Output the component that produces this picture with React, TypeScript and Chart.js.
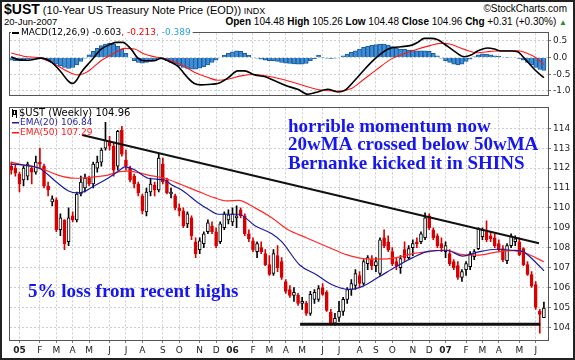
import React, { useEffect, useRef } from 'react';
import { Chart, registerables } from 'chart.js';
Chart.register(...registerables);

// Weekly candles, index 0 = week of 20-Dec-2004, last = week of 18-Jun-2007
const OPEN = [112.1,112.0,111.7,111.4,111.6,112.0,111.8,112.3,112.1,111.1,110.3,110.4,108.9,109.4,108.3,109.6,109.4,110.7,111.0,111.5,111.2,112.0,112.3,113.0,113.35,113.1,112.1,113.9,112.4,112.0,111.6,111.2,110.6,109.8,110.8,111.15,110.9,112.2,111.4,110.7,110.6,110.0,109.85,109.2,109.5,108.3,107.9,108.2,108.8,109.1,108.8,108.3,109.0,109.4,109.3,109.5,109.9,109.6,108.7,108.35,107.8,108.0,107.7,107.15,106.7,107.6,107.3,106.3,105.9,105.6,105.6,105.2,105.2,104.7,105.4,105.4,106.0,105.75,104.75,104.2,104.5,104.8,105.4,105.9,106.1,106.6,106.2,107.2,107.4,107.1,106.7,108.5,108.3,107.8,107.3,107.0,107.9,107.5,108.0,108.3,108.3,108.5,109.6,108.9,108.6,108.2,107.8,107.7,107.3,107.1,106.5,106.9,107.05,107.55,107.95,108.55,108.8,108.6,108.5,108.2,107.95,107.35,108.1,108.3,108.3,107.95,107.15,106.65,106.15,104.8,104.48];
const HIGH = [112.3,112.2,111.8,112.1,112.3,112.1,112.6,113.0,112.2,111.3,110.6,110.5,109.7,109.4,110.0,109.8,110.8,111.6,111.7,111.6,112.3,112.6,113.0,114.3,113.6,113.3,113.9,114.1,112.9,112.1,111.7,111.3,110.7,111.0,111.5,111.3,112.7,112.5,111.5,111.0,110.7,110.2,110.0,109.8,109.6,108.5,108.5,108.8,109.4,109.3,109.0,109.3,109.8,109.9,110.0,110.1,110.0,109.7,108.9,108.5,108.3,108.3,107.9,107.6,107.9,108.1,107.5,106.4,106.1,106.0,105.7,105.5,105.3,105.8,105.9,106.1,106.2,105.85,104.9,104.7,105.3,105.5,106.0,106.4,106.9,106.8,107.4,107.6,107.6,107.5,108.5,108.9,108.6,108.0,107.5,107.6,108.3,108.1,108.4,108.5,108.8,109.75,109.7,109.0,108.7,108.5,108.3,107.9,107.4,107.3,106.9,107.3,107.8,107.9,109.0,109.0,109.35,108.8,108.7,108.4,108.1,108.2,108.7,108.6,108.5,108.0,107.3,106.8,106.3,104.9,105.26];
const LOW = [111.7,111.6,110.8,111.1,111.4,111.2,111.7,112.0,111.0,110.6,110.1,108.8,108.6,107.9,108.1,109.3,109.3,110.6,110.8,111.1,111.0,111.8,112.1,112.9,112.9,111.6,111.9,112.6,111.9,111.3,111.0,110.6,109.7,109.6,110.6,110.6,110.8,111.2,110.7,110.5,109.9,109.6,109.0,109.0,108.4,107.5,107.7,108.0,108.7,108.7,108.0,108.2,108.9,109.2,109.1,109.0,109.5,108.6,108.3,107.8,107.5,107.7,107.1,106.6,106.6,106.8,106.4,105.7,105.5,105.3,105.1,104.9,104.6,104.6,105.2,105.3,105.6,104.8,104.1,104.1,104.3,104.6,105.2,105.6,105.9,106.0,106.1,106.9,106.9,106.8,106.6,108.0,107.8,107.1,106.9,106.7,107.3,107.4,107.6,108.0,108.2,108.4,108.9,108.4,108.0,107.8,107.5,107.1,106.9,106.4,106.3,106.6,106.9,107.4,107.9,108.4,108.3,108.3,108.0,107.8,107.3,107.2,108.0,108.1,107.6,107.1,106.6,106.0,104.9,103.7,104.48];
const CLOSE = [111.9,111.75,111.2,112.0,112.2,111.8,112.3,112.2,111.1,110.9,110.45,108.9,109.5,108.2,109.5,109.4,110.7,111.3,111.5,111.2,112.2,112.3,112.9,113.4,113.1,111.9,113.85,112.7,112.1,111.4,111.2,110.75,109.85,110.8,111.2,110.9,112.5,111.3,110.75,110.8,110.0,109.85,109.1,109.7,108.6,107.7,108.35,108.7,109.25,108.8,108.1,109.2,109.7,109.65,109.7,109.6,109.6,108.7,108.45,107.9,108.2,107.8,107.15,106.65,107.7,107.0,106.5,105.8,105.6,105.75,105.2,105.3,104.7,105.65,105.75,105.95,105.65,104.85,104.15,104.45,104.8,105.4,105.9,106.2,106.7,106.2,107.3,107.5,107.1,107.3,108.4,108.1,107.9,107.2,107.1,107.45,107.5,107.95,108.2,108.2,108.7,109.5,109.0,108.5,108.1,108.0,108.1,107.2,107.0,106.5,106.8,107.2,107.7,107.8,108.95,108.9,108.4,108.45,108.1,107.9,107.4,108.1,108.6,108.45,107.65,107.15,106.65,106.07,105.0,104.65,104.96];

// Moving averages: [week index, value]
const EMA20_PTS: [number, number][] = [[0,112.2],[3,112.15],[7,111.98],[11,111.3],[14,110.85],[16,110.75],[18,110.83],[20,111.08],[23.6,111.49],[26.5,111.9],[27.7,112.06],[30.2,111.9],[33.4,111.49],[37.5,111.4],[39.1,111.16],[41.6,110.9],[45.6,110.26],[48.1,109.93],[50.5,109.68],[55.5,109.68],[59.5,109.1],[63.6,108.7],[66,108.3],[70.4,107.13],[74.5,106.64],[77.7,106.2],[80,106.0],[82.4,105.9],[85.9,106.07],[89.9,106.55],[94,107.05],[98,107.5],[102,107.83],[106.2,107.87],[110.2,107.58],[114.3,107.8],[118.4,107.92],[122.4,107.87],[124.9,107.8],[128.2,107.22],[130,106.84]];
const EMA50_PTS: [number, number][] = [[0,112.3],[3.2,112.15],[7.3,111.98],[11.4,111.65],[15.5,111.49],[19.5,111.54],[23.6,111.65],[26.5,111.82],[28.5,111.85],[33.4,111.65],[37.5,111.49],[41.6,111.16],[45.6,110.83],[49.7,110.5],[52.6,110.35],[55.5,110.38],[59.5,110.0],[63.6,109.5],[67.6,108.9],[72,108.5],[77.7,108.0],[81.8,107.65],[85.9,107.45],[89.9,107.42],[94,107.5],[98,107.7],[102,107.8],[106.2,107.87],[110.2,107.65],[114.3,107.63],[118.4,107.78],[122.4,107.85],[125.7,107.71],[130,107.29]];

// MACD(12,26,9)
const MACD_PTS: [number, number][] = [[0,0.02],[1.6,-0.06],[4.1,-0.085],[7.3,-0.02],[9.8,-0.14],[12.2,-0.44],[13.8,-0.69],[15,-0.78],[15.9,-0.69],[17.1,-0.44],[19.5,-0.1],[21.9,0.24],[24.4,0.4],[25.6,0.45],[27.2,0.45],[29.3,0.24],[30.9,-0.02],[32.5,-0.1],[35,-0.1],[36.6,-0.02],[38.2,-0.1],[40.7,-0.27],[43.1,-0.61],[44.7,-0.78],[46.3,-0.82],[48.8,-0.8],[50.4,-0.78],[52.9,-0.61],[55.3,-0.4],[56.9,-0.4],[59.4,-0.52],[61.8,-0.57],[64.2,-0.69],[67.5,-0.86],[69.9,-0.95],[72.4,-1.1],[74.8,-1.03],[77.2,-0.95],[79.7,-1.03],[81.3,-0.99],[83.8,-0.69],[86.2,-0.36],[88.6,-0.06],[91.1,0.19],[92.7,0.28],[95.1,0.32],[97.6,0.36],[99.2,0.45],[100.8,0.57],[102.4,0.57],[104.1,0.53],[105.7,0.4],[108.1,0.19],[110.6,0.02],[112.2,0.07],[113.8,0.19],[116.3,0.28],[117.9,0.25],[119.5,0.19],[122,0.19],[123.6,0.17],[125.2,-0.02],[127.7,-0.36],[130,-0.603]];
const SIGNAL_PTS: [number, number][] = [[0,0.13],[3.3,0.03],[7.3,-0.02],[10.6,-0.2],[13.8,-0.42],[16.3,-0.52],[18.7,-0.42],[21.9,-0.1],[25.2,0.13],[27.6,0.27],[30.1,0.25],[32.5,0.1],[35,0.02],[38.2,-0.07],[41.5,-0.22],[44.7,-0.44],[48,-0.6],[50.4,-0.68],[52.9,-0.65],[56.1,-0.55],[59.4,-0.51],[62.6,-0.56],[65,-0.62],[69,-0.75],[73,-0.9],[76,-0.98],[80,-1.0],[83,-0.93],[86,-0.66],[89,-0.38],[92.7,-0.05],[95.8,0.11],[99,0.24],[102.4,0.36],[104.9,0.42],[107,0.4],[110.6,0.24],[113.8,0.14],[117,0.18],[120,0.2],[123.6,0.2],[126,0.12],[128,0.0],[130,-0.213]];
const HIST = [-0.08,-0.1,-0.1,-0.08,-0.05,-0.03,-0.02,-0.01,-0.05,-0.1,-0.15,-0.2,-0.25,-0.3,-0.33,-0.3,-0.22,-0.12,-0.02,0.08,0.18,0.27,0.35,0.4,0.42,0.4,0.33,0.25,0.12,0.0,-0.1,-0.15,-0.17,-0.15,-0.12,-0.08,-0.03,-0.05,-0.1,-0.15,-0.2,-0.25,-0.3,-0.33,-0.35,-0.35,-0.32,-0.28,-0.22,-0.15,-0.08,0.0,0.06,0.12,0.17,0.2,0.18,0.12,0.06,0.0,-0.02,-0.05,-0.08,-0.1,-0.1,-0.12,-0.15,-0.17,-0.18,-0.19,-0.2,-0.2,-0.18,-0.1,-0.04,0.06,0.01,-0.02,-0.03,-0.02,0.0,0.05,0.1,0.15,0.2,0.25,0.3,0.33,0.36,0.38,0.4,0.4,0.37,0.32,0.28,0.25,0.24,0.22,0.22,0.2,0.2,0.2,0.18,0.12,0.05,-0.02,-0.1,-0.15,-0.2,-0.22,-0.2,-0.12,-0.05,0.02,0.08,0.11,0.1,0.08,0.05,0.03,0.0,-0.01,0.0,0.0,-0.03,-0.08,-0.15,-0.22,-0.3,-0.36,-0.389];

// Hand-drawn lines
const TREND_LINE: [number, number][] = [[17.3,113.66],[128.8,108.22]];
const SUPPORT_LINE: [number, number][] = [[70.5,104.15],[129.1,104.15]];

// Axes
const MONTH_TICKS = [2,7,11,15,19,24,28,32,37,41,46,50,54,59,63,67,71,76,80,85,89,93,98,102,106,111,115,119,124,128];
const MONTH_LABELS = ['05','F','M','A','M','J','J','A','S','O','N','D','06','F','M','A','M','J','J','A','S','O','N','D','07','F','M','A','M','J'];
const PRICE_TICKS = [104,105,106,107,108,109,110,111,112,113,114];
const MACD_TICKS = [0.5,0,-0.5,-1.0];

const RED = '#d80000';
const GRID = '#cdcdcd';
const AXFONT = '"DejaVu Sans", Verdana, sans-serif';

const framePlugin = {
  id: 'frame',
  afterDraw(chart: any) {
    const { ctx, chartArea: a } = chart;
    ctx.save();
    ctx.strokeStyle = '#555';
    ctx.lineWidth = 1;
    ctx.strokeRect(Math.round(a.left) - 0.5, Math.round(a.top) - 0.5, Math.round(a.right - a.left) + 1, Math.round(a.bottom - a.top) + 1);
    ctx.restore();
  },
};

const xScale = (showLabels: boolean) => ({
  type: 'linear',
  min: -0.3,
  max: 131,
  offset: false,
  afterBuildTicks: (ax: any) => { ax.ticks = MONTH_TICKS.map((v) => ({ value: v })); },
  afterFit: (s: any) => { s.height = showLabels ? 20 : 0; },
  ticks: {
    display: showLabels,
    autoSkip: false,
    maxRotation: 0,
    padding: 2,
    color: '#222',
    callback: (_v: any, i: number) => MONTH_LABELS[i],
    font: (c: any) => ({ size: 9, family: AXFONT, weight: /\d/.test(MONTH_LABELS[c.index] || '') ? 'bold' : 'normal' }),
  },
  grid: { color: GRID, drawTicks: showLabels, tickLength: 3, tickColor: '#777', offset: false },
  border: { display: false, dash: [2, 2] },
});

export default function App() {
  const macdRef = useRef<HTMLCanvasElement>(null);
  const priceRef = useRef<HTMLCanvasElement>(null);

  useEffect(() => {
    const toXY = (pts: [number, number][]) => pts.map(([x, y]) => ({ x, y }));
    const idx = CLOSE.map((_, i) => i);
    const up = idx.map((i) => CLOSE[i] >= OPEN[i]);

    const macdLegend = {
      id: 'macdLegend',
      afterDraw(chart: any) {
        const ctx = chart.ctx;
        ctx.save();
        ctx.font = '9px ' + AXFONT;
        ctx.textBaseline = 'middle';
        const parts: [string, string][] = [['MACD(12,26,9) -0.603', '#000'], [', -0.213', '#ff0000'], [', -0.389', '#2aa3dc']];
        let x = 21;
        const y = 7;
        let w = 0;
        parts.forEach(([t]) => { w += ctx.measureText(t).width; });
        ctx.fillStyle = '#fff';
        ctx.fillRect(11, 2, w + 12, 10);
        ctx.strokeStyle = '#000';
        ctx.lineWidth = 2;
        ctx.beginPath(); ctx.moveTo(12, y); ctx.lineTo(19, y); ctx.stroke();
        parts.forEach(([t, c]) => { ctx.fillStyle = c; ctx.fillText(t, x, y); x += ctx.measureText(t).width; });
        ctx.restore();
      },
    };

    const macdChart = new Chart(macdRef.current as HTMLCanvasElement, {
      type: 'bar',
      data: {
        datasets: [
          { type: 'line', data: toXY(MACD_PTS), borderColor: '#000', borderWidth: 1.6, pointRadius: 0, cubicInterpolationMode: 'monotone', order: 0 } as any,
          { type: 'line', data: toXY(SIGNAL_PTS), borderColor: '#ff1a1a', borderWidth: 1.1, pointRadius: 0, cubicInterpolationMode: 'monotone', order: 1 } as any,
          { type: 'bar', data: HIST.map((v, i) => ({ x: i, y: v })), backgroundColor: '#3d8fd6', borderColor: '#1d5a9e', borderWidth: 1, barPercentage: 1, categoryPercentage: 1, order: 2 } as any,
        ],
      },
      options: {
        animation: false,
        responsive: false,
        devicePixelRatio: 1,
        layout: { padding: { left: 10, top: 2, right: 0, bottom: 2 } },
        plugins: { legend: { display: false }, tooltip: { enabled: false } },
        scales: {
          x: xScale(false) as any,
          y: {
            position: 'right',
            min: -1.139,
            max: 0.717,
            afterBuildTicks: (ax: any) => { ax.ticks = MACD_TICKS.map((v) => ({ value: v })); },
            afterFit: (s: any) => { s.width = 27; },
            ticks: { callback: (v: any) => Number(v).toFixed(1), font: { size: 9, family: AXFONT }, color: '#222', padding: 2 },
            grid: { color: GRID, tickLength: 3, tickColor: '#777' },
            border: { display: false, dash: [2, 2] },
          } as any,
        },
      },
      plugins: [framePlugin, macdLegend],
    });

    const bodies = idx.map((i) => {
      let lo = Math.min(OPEN[i], CLOSE[i]);
      let hi = Math.max(OPEN[i], CLOSE[i]);
      if (hi - lo < 0.06) { const m = (hi + lo) / 2; lo = m - 0.04; hi = m + 0.04; }
      return { x: i, y: [lo, hi] };
    });
    const wicks = idx.map((i) => ({ x: i, y: [LOW[i], HIGH[i]] }));

    const priceOverlay = {
      id: 'priceOverlay',
      afterDraw(chart: any) {
        const ctx = chart.ctx;
        ctx.save();
        ctx.textBaseline = 'middle';
        // small candle icon
        ctx.fillStyle = '#000';
        ctx.fillRect(12, 8, 1, 8);
        ctx.strokeStyle = '#000'; ctx.lineWidth = 1;
        ctx.strokeRect(13.5, 9.5, 2, 4);
        ctx.fillRect(16, 9, 1, 8);
        ctx.font = '10px ' + AXFONT;
        ctx.fillStyle = '#000';
        ctx.fillText('$UST (Weekly) 104.96', 19, 12);
        ctx.font = '9px ' + AXFONT;
        ctx.fillStyle = '#1c1c9c';
        ctx.fillRect(12, 21, 7, 1.5);
        ctx.fillText('EMA(20) 106.84', 20, 22);
        ctx.fillStyle = '#ff1a1a';
        ctx.fillRect(12, 31, 7, 1.5);
        ctx.fillText('EMA(50) 107.29', 20, 32);
        // annotations
        ctx.font = 'bold 19px "Liberation Serif", "Times New Roman", serif';
        ctx.fillStyle = '#1616ee';
        ctx.textBaseline = 'alphabetic';
        ctx.fillText('horrible momentum now', 288, 31);
        ctx.fillText('20wMA crossed below 50wMA', 288, 49);
        ctx.fillText('Bernanke kicked it in SHINS', 288, 68);
        ctx.fillText('5% loss from recent highs', 28, 196);
        ctx.restore();
      },
    };

    const priceChart = new Chart(priceRef.current as HTMLCanvasElement, {
      type: 'bar',
      data: {
        datasets: [
          { type: 'line', data: toXY(TREND_LINE), borderColor: '#111', borderWidth: 2, pointRadius: 0, order: 0 } as any,
          { type: 'line', data: toXY(SUPPORT_LINE), borderColor: '#111', borderWidth: 3, pointRadius: 0, order: 1 } as any,
          { type: 'line', data: toXY(EMA20_PTS), borderColor: '#1c1c9c', borderWidth: 1.2, pointRadius: 0, cubicInterpolationMode: 'monotone', order: 2 } as any,
          { type: 'line', data: toXY(EMA50_PTS), borderColor: '#ff2a2a', borderWidth: 1.2, pointRadius: 0, cubicInterpolationMode: 'monotone', order: 3 } as any,
          { type: 'bar', data: bodies, backgroundColor: up.map((u) => (u ? '#fff' : RED)), borderColor: up.map((u) => (u ? '#000' : RED)), borderWidth: 1, borderSkipped: false, barThickness: 3, grouped: false, order: 4 } as any,
          { type: 'bar', data: wicks, backgroundColor: up.map((u) => (u ? '#000' : RED)), borderWidth: 0, barThickness: 1, grouped: false, order: 5 } as any,
        ],
      },
      options: {
        animation: false,
        responsive: false,
        devicePixelRatio: 1,
        layout: { padding: { left: 10, top: 2, right: 0, bottom: 0 } },
        plugins: { legend: { display: false }, tooltip: { enabled: false } },
        scales: {
          x: xScale(true) as any,
          y: {
            position: 'right',
            min: 103.36,
            max: 115.0,
            afterBuildTicks: (ax: any) => { ax.ticks = PRICE_TICKS.map((v) => ({ value: v })); },
            afterFit: (s: any) => { s.width = 27; },
            ticks: { callback: (v: any) => String(v), font: { size: 9, family: AXFONT }, color: '#222', padding: 2 },
            grid: { color: GRID, tickLength: 3, tickColor: '#777' },
            border: { display: false, dash: [2, 2] },
          } as any,
        },
      },
      plugins: [framePlugin, priceOverlay],
    });

    return () => { macdChart.destroy(); priceChart.destroy(); };
  }, []);

  const sans = '"Liberation Sans", Arial, sans-serif';
  return (
    <div style={{ position: 'absolute', left: 0, top: 0, width: 575, height: 360, background: '#fff', overflow: 'hidden', fontFamily: sans, color: '#000' }}>
      <div style={{ position: 'absolute', left: 4, top: 1, whiteSpace: 'nowrap', lineHeight: '16px' }}>
        <span style={{ fontWeight: 'bold', fontSize: 14 }}>$UST</span>
        <span style={{ fontSize: 11 }}> (10-Year US Treasury Note Price (EOD))</span>
        <span style={{ fontSize: 9 }}> INDX</span>
      </div>
      <div style={{ position: 'absolute', right: 8, top: 3, fontSize: 10, whiteSpace: 'nowrap', lineHeight: '12px' }}>©StockCharts.com</div>
      <div style={{ position: 'absolute', left: 4, top: 16, fontSize: 9.5, whiteSpace: 'nowrap', lineHeight: '11px' }}>20-Jun-2007</div>
      <div style={{ position: 'absolute', right: 8, top: 16, fontSize: 10, whiteSpace: 'nowrap', lineHeight: '11px' }}>
        <b>Open</b> 104.48 <b>High</b> 105.26 <b>Low</b> 104.48 <b>Close</b> 104.96 <b>Chg</b> +0.31 (+0.30%) <span style={{ color: '#2a8a2a', fontSize: 8 }}>▲</span>
      </div>
      <canvas ref={macdRef} width={575} height={77} style={{ position: 'absolute', left: 0, top: 26, width: 575, height: 77 }} />
      <canvas ref={priceRef} width={575} height={259} style={{ position: 'absolute', left: 0, top: 101, width: 575, height: 259 }} />
      <div style={{ position: 'absolute', left: 0, top: 0, right: 0, bottom: 0, border: '2px solid #222', pointerEvents: 'none' }} />
    </div>
  );
}
